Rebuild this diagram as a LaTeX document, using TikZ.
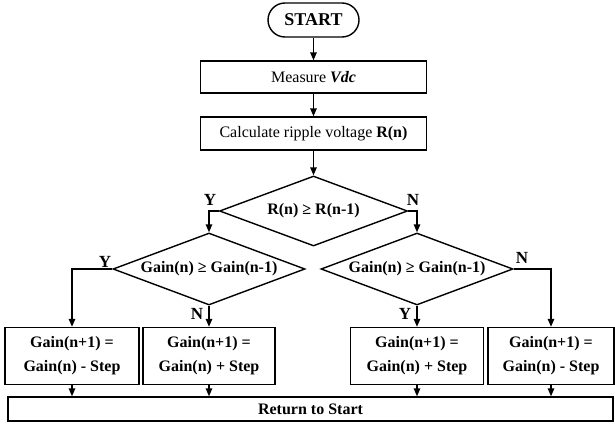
\documentclass[tikz,border=0pt]{standalone}
\usepackage{fontspec}
\setmainfont{Liberation Serif}
\usetikzlibrary{arrows.meta,shapes.geometric}
\begin{document}
\begin{tikzpicture}[x=1pt,y=-1pt,
  every node/.style={font=\fontsize{16}{24}\selectfont},
  line width=1.4pt,
  arr/.style={-{Triangle[length=8pt,width=6.5pt]}},
  procbox/.style={draw,rectangle,inner sep=0pt,align=center},
  decbox/.style={draw,diamond,aspect=2.7,inner sep=0pt,font=\fontsize{16}{19}\selectfont\bfseries},
  lbl/.style={font=\fontsize{17}{20}\selectfont\bfseries,inner sep=0pt}]
\useasboundingbox (0,0) rectangle (615,423);
\node[procbox,rounded corners=17pt,minimum width=91pt,minimum height=34pt,font=\fontsize{18}{21}\selectfont\bfseries] (start) at (313.5,20) {START};
\node[procbox,minimum width=226pt,minimum height=32pt] (meas) at (313.5,77) {Measure \textbf{\textit{Vdc}}};
\node[procbox,minimum width=226pt,minimum height=33pt] (calc) at (313.5,133.5) {Calculate ripple voltage \textbf{R(n)}};
\node[decbox,minimum width=188pt,minimum height=70pt] (d1) at (313.5,211) {R(n) ≥ R(n-1)};
\node[decbox,minimum width=192pt,minimum height=72pt] (d2) at (209,269) {Gain(n) ≥ Gain(n-1)};
\node[decbox,minimum width=192pt,minimum height=72pt] (d3) at (417,269) {Gain(n) ≥ Gain(n-1)};
\node[procbox,minimum width=134pt,minimum height=57pt,font=\fontsize{16}{24}\selectfont\bfseries] (b1) at (72,356) {Gain(n+1) =\\Gain(n) - Step};
\node[procbox,minimum width=132pt,minimum height=57pt,font=\fontsize{16}{24}\selectfont\bfseries] (b2) at (209,356) {Gain(n+1) =\\Gain(n) + Step};
\node[procbox,minimum width=133pt,minimum height=57pt,font=\fontsize{16}{24}\selectfont\bfseries] (b3) at (417,356) {Gain(n+1) =\\Gain(n) + Step};
\node[procbox,minimum width=126pt,minimum height=57pt,font=\fontsize{16}{24}\selectfont\bfseries] (b4) at (551,356) {Gain(n+1) =\\Gain(n) - Step};
\node[procbox,minimum width=605pt,minimum height=24pt,font=\fontsize{16}{19}\selectfont\bfseries] (ret) at (310.5,409) {Return to Start};
\draw[arr] (start) -- (meas);
\draw[arr] (meas) -- (calc);
\draw[arr] (calc) -- (d1);
\draw[arr] (d1.west) -| (d2.north);
\draw[arr] (d1.east) -| (d3.north);
\draw[arr] (d2.west) -| (b1.north);
\draw[arr] (d2.south) -- (b2.north);
\draw[arr] (d3.south) -- (b3.north);
\draw[arr] (d3.east) -| (b4.north);
\foreach \b in {b1,b2,b3,b4}{\draw[arr] (\b.south) -- (\b.south |- ret.north);}
\node[lbl] (y1) at (210,200) {Y};
\node[lbl] (n1) at (413,200) {N};
\node[lbl] (y2) at (105,262) {Y};
\node[lbl] (n2) at (522,258) {N};
\node[lbl] (n3) at (197,314) {N};
\node[lbl] (y3) at (405,314) {Y};
\end{tikzpicture}
\end{document}
